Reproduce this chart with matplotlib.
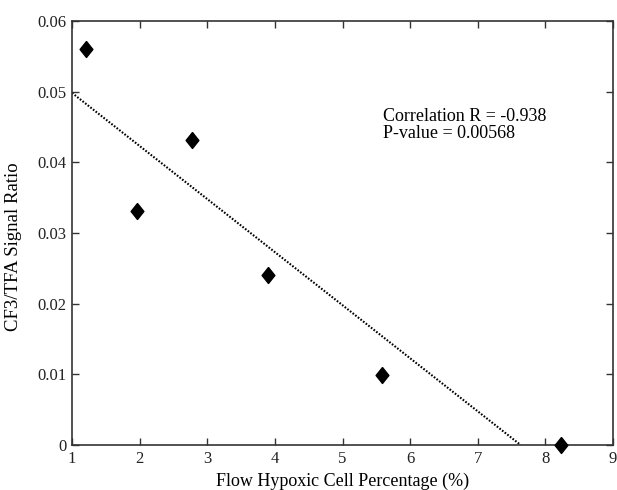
import numpy as np
import matplotlib
matplotlib.use("Agg")
import matplotlib.pyplot as plt

# data
hypoxic_pct = [1.20, 1.96, 2.78, 3.90, 5.58, 8.23]
signal_ratio = [0.0561, 0.0331, 0.0432, 0.0241, 0.0099, 0.0]
x_ticks = [1, 2, 3, 4, 5, 6, 7, 8, 9]
y_ticks = [0, 0.01, 0.02, 0.03, 0.04, 0.05, 0.06]
y_tick_labels = ["0", "0.01", "0.02", "0.03", "0.04", "0.05", "0.06"]
stats_text = "Correlation R = -0.938\nP-value = 0.00568"

plt.rcParams["font.family"] = ["Liberation Serif", "DejaVu Serif"]

fig = plt.figure(figsize=(6.17, 4.9), dpi=100)
ax = fig.add_axes([0.1167, 0.0918, 0.8769, 0.8653])

# linear fit, drawn from the left edge down to where it hits zero
slope, intercept = np.polyfit(hypoxic_pct, signal_ratio, 1)
x_zero = -intercept / slope
fit_x = np.array([x_ticks[0], x_zero])
ax.plot(fit_x, slope * fit_x + intercept, color="black",
        linestyle=(0, (0.8, 0.8)), linewidth=1.5, zorder=2)

diamond = [(0, 1), (0.8, 0), (0, -1), (-0.8, 0), (0, 1)]
ax.plot(hypoxic_pct, signal_ratio, linestyle="none", marker=diamond,
        markersize=11.5, color="black", zorder=3, clip_on=False)

ax.text(5.60, 0.0453, stats_text, fontsize=13, va="center", ha="left",
        linespacing=1.0)

ax.set_xlim(1, 9)
ax.set_ylim(0, 0.06)
ax.set_xticks(x_ticks)
ax.set_yticks(y_ticks)
ax.set_yticklabels(y_tick_labels)
ax.tick_params(direction="in", length=5, width=1, top=True, right=True,
               labelsize=12, colors="#333333", labelcolor="#222222", pad=4)
for sp in ax.spines.values():
    sp.set_color("#333333")
    sp.set_linewidth(1.2)

ax.set_xlabel("Flow Hypoxic Cell Percentage (%)", fontsize=13, labelpad=4.5)
ax.set_ylabel("CF3/TFA Signal Ratio", fontsize=13.5)
ax.yaxis.set_label_coords(-0.092, 0.467)

fig.savefig("out.png", dpi=100)
